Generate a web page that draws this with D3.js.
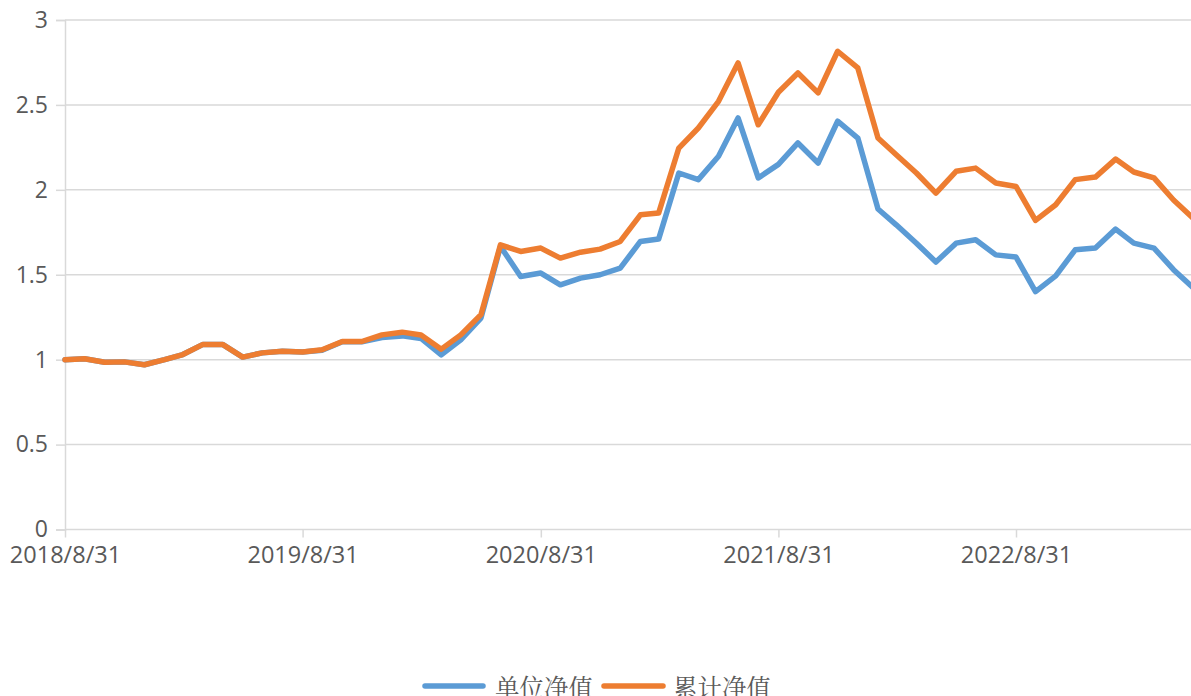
<!DOCTYPE html>
<html>
<head>
<meta charset="utf-8">
<script src="https://cdn.jsdelivr.net/npm/d3@7/dist/d3.min.js"></script>
<style>
  html, body { margin: 0; padding: 0; background: #fff; }
  svg { display: block; }
</style>
</head>
<body>
<svg id="chart" width="1191" height="696"></svg>
<script>
// ---- data ----
const dates = [
  "2018/8/31","2018/9/30","2018/10/31","2018/11/30","2018/12/31",
  "2019/1/31","2019/2/28","2019/3/31","2019/4/30","2019/5/31","2019/6/30","2019/7/31",
  "2019/8/31","2019/9/30","2019/10/31","2019/11/30","2019/12/31",
  "2020/1/31","2020/2/29","2020/3/31","2020/4/30","2020/5/31","2020/6/30","2020/7/31",
  "2020/8/31","2020/9/30","2020/10/31","2020/11/30","2020/12/31",
  "2021/1/31","2021/2/28","2021/3/31","2021/4/30","2021/5/31","2021/6/30","2021/7/31",
  "2021/8/31","2021/9/30","2021/10/31","2021/11/30","2021/12/31",
  "2022/1/31","2022/2/28","2022/3/31","2022/4/30","2022/5/31","2022/6/30","2022/7/31",
  "2022/8/31","2022/9/30","2022/10/31","2022/11/30","2022/12/31",
  "2023/1/31","2023/2/28","2023/3/31","2023/4/30","2023/5/31"
];
const unitNav = [
  1.00, 1.005, 0.985, 0.987, 0.97,
  1.00, 1.03, 1.09, 1.09, 1.015, 1.04, 1.05,
  1.045, 1.055, 1.105, 1.105, 1.13,
  1.14, 1.125, 1.028, 1.117, 1.245, 1.667, 1.49,
  1.51, 1.441, 1.48, 1.50, 1.539,
  1.696, 1.71, 2.099, 2.06, 2.198, 2.423, 2.07,
  2.15, 2.276, 2.158, 2.404, 2.305,
  1.887, 1.794, 1.686, 1.575, 1.686, 1.706, 1.617,
  1.604, 1.401, 1.493, 1.647, 1.657,
  1.769, 1.686, 1.657, 1.53, 1.42
];
const cumNav = [
  1.00, 1.005, 0.985, 0.987, 0.97,
  1.00, 1.03, 1.09, 1.09, 1.015, 1.04, 1.05,
  1.045, 1.058, 1.107, 1.107, 1.146,
  1.162, 1.145, 1.062, 1.146, 1.265, 1.676, 1.637,
  1.657, 1.598, 1.633, 1.651, 1.696,
  1.853, 1.863, 2.246, 2.364, 2.521, 2.747, 2.383,
  2.575, 2.688, 2.571, 2.816, 2.718,
  2.305, 2.207, 2.099, 1.981, 2.109, 2.128, 2.04,
  2.02, 1.82, 1.912, 2.06, 2.075,
  2.181, 2.105, 2.07, 1.94, 1.83
];
const xTickLabels = ["2018/8/31","2019/8/31","2020/8/31","2021/8/31","2022/8/31"];
const yTicks = [0, 0.5, 1, 1.5, 2, 2.5, 3];
const seriesNames = ["单位净值", "累计净值"];
const seriesColors = ["#5B9BD5", "#ED7D31"];

// ---- drawing ----
const parse = d3.timeParse("%Y/%m/%d");
const svg = d3.select("#chart");
const W = 1191;
const plotLeft = 65, plotTop = 20, plotBottom = 529.5;

const x = d3.scaleTime()
  .domain([parse("2018/8/31"), parse("2022/8/31")])
  .range([plotLeft, 1016]);
const y = d3.scaleLinear().domain([0, 3]).range([plotBottom, plotTop]);

const grid = "#D9D9D9";
const textColor = "#595959";
const font = "'Open Sans', 'Segoe UI', sans-serif";

// gridlines
svg.append("g").selectAll("line").data(yTicks.filter(d => d > 0)).join("line")
  .attr("x1", plotLeft).attr("x2", W)
  .attr("y1", d => y(d)).attr("y2", d => y(d))
  .attr("stroke", grid).attr("stroke-width", 1.5);

// y axis
const yAxis = d3.axisLeft(y).tickValues(yTicks).tickSize(9).tickPadding(8)
  .tickFormat(d => String(d));
const gy = svg.append("g").attr("transform", `translate(${plotLeft},0)`).call(yAxis);
gy.select(".domain").attr("stroke", grid).attr("stroke-width", 1.5);
gy.selectAll(".tick line").attr("stroke", grid).attr("stroke-width", 1.5);
gy.selectAll(".tick text").attr("fill", textColor)
  .style("font-family", font).style("font-size", "23px");

// x axis
const xAxis = d3.axisBottom(x)
  .tickValues(xTickLabels.map(parse))
  .tickSize(8).tickPadding(9)
  .tickFormat(d3.timeFormat("%Y/%-m/%-d"));
const gx = svg.append("g").attr("transform", `translate(0,${plotBottom})`).call(xAxis);
gx.select(".domain").attr("stroke", grid).attr("stroke-width", 1.5)
  .attr("d", `M${plotLeft},0H${W + 20}`);
gx.selectAll(".tick line").attr("stroke", grid).attr("stroke-width", 1.5);
gx.selectAll(".tick text").attr("fill", textColor)
  .style("font-family", font).style("font-size", "23.5px");

// lines
const pts = dates.map(parse);
const line = d3.line().x((d, i) => x(pts[i])).y(d => y(d));
[unitNav, cumNav].forEach((s, i) => {
  svg.append("path").datum(s)
    .attr("d", line)
    .attr("fill", "none")
    .attr("stroke", seriesColors[i])
    .attr("stroke-width", 5.5)
    .attr("stroke-linejoin", "round")
    .attr("stroke-linecap", "round");
});

// legend
const legend = svg.append("g");
const legendItems = [
  { x1: 425, x2: 483, tx: 495 },
  { x1: 604, x2: 663, tx: 673 }
];
legendItems.forEach((it, i) => {
  legend.append("line")
    .attr("x1", it.x1).attr("x2", it.x2)
    .attr("y1", 686).attr("y2", 686)
    .attr("stroke", seriesColors[i]).attr("stroke-width", 5.5)
    .attr("stroke-linecap", "round");
  legend.append("text")
    .attr("x", it.tx).attr("y", 686)
    .attr("dominant-baseline", "central")
    .attr("fill", textColor)
    .style("font-family", "'Noto Serif CJK SC', 'Noto Sans CJK SC', serif")
    .style("font-size", "24.5px")
    .text(seriesNames[i]);
});
</script>
</body>
</html>
